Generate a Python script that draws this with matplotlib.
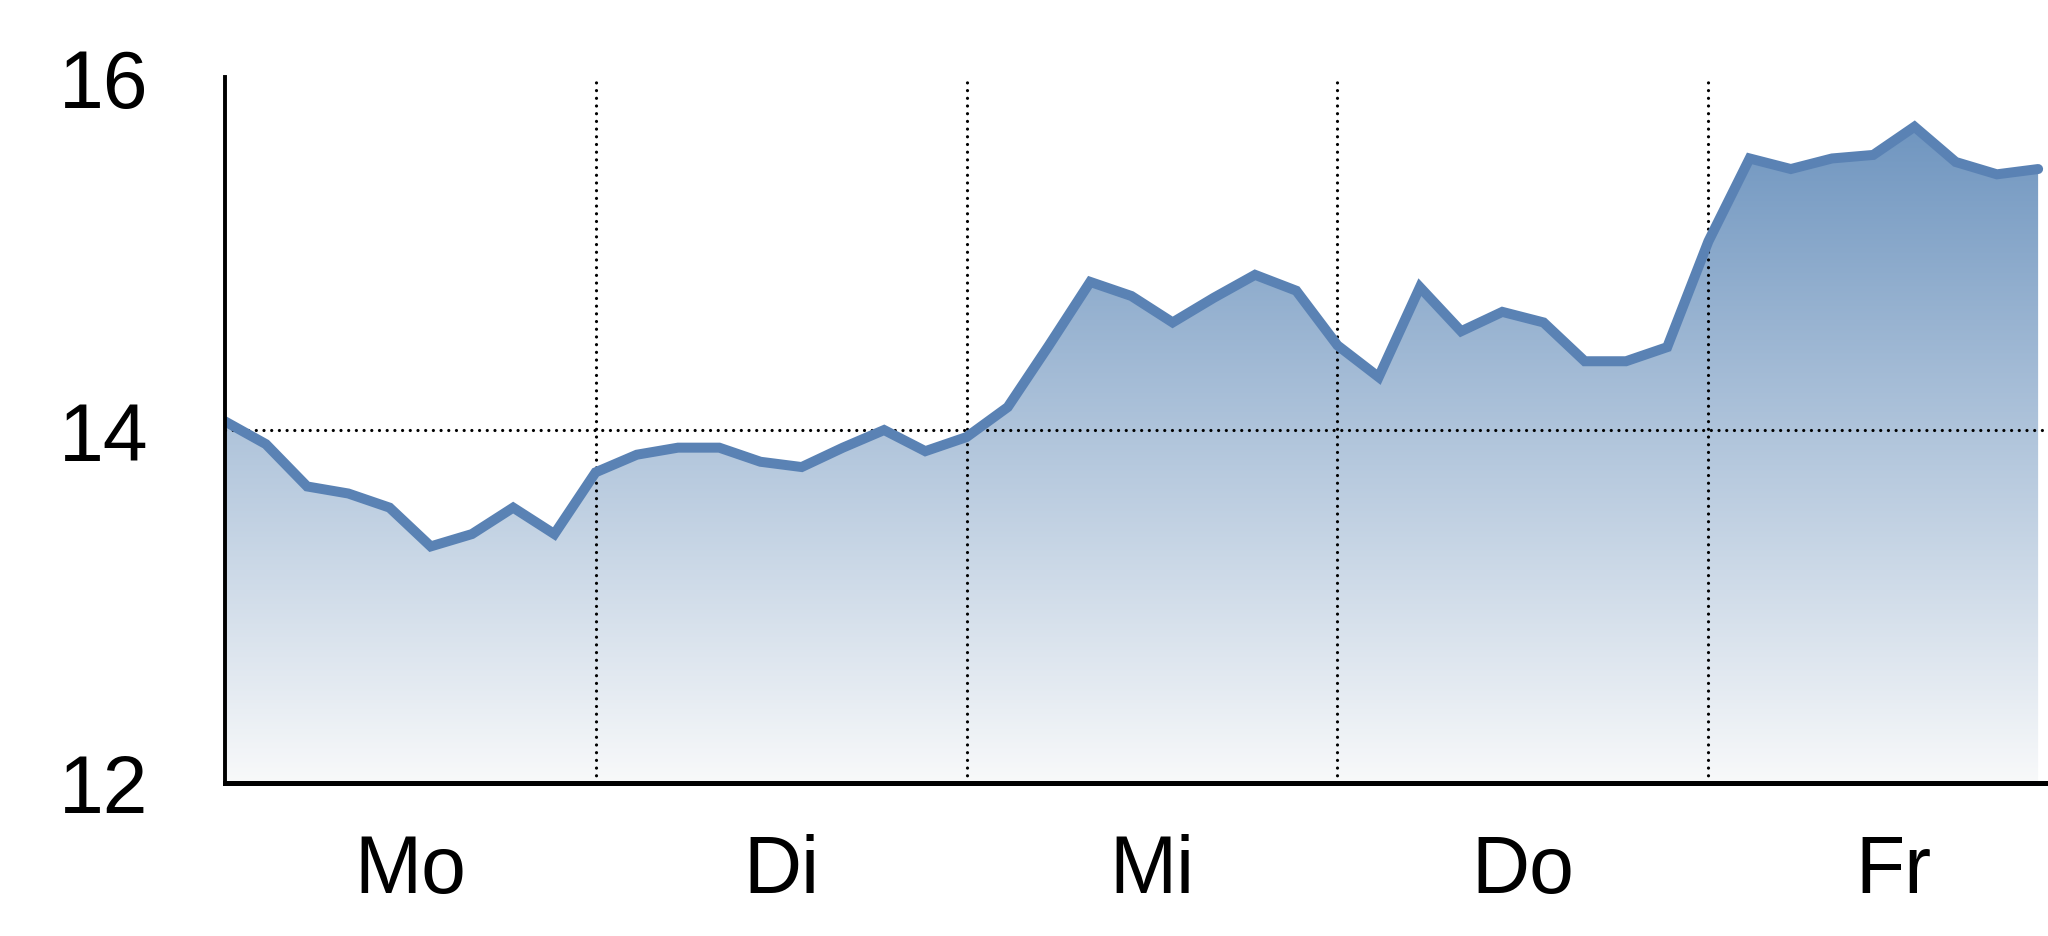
import numpy as np
import matplotlib
matplotlib.use("Agg")
import matplotlib.pyplot as plt
from matplotlib.colors import LinearSegmentedColormap
from matplotlib.patches import Polygon

plt.rcParams['font.family'] = ['Liberation Sans', 'DejaVu Sans']

# ── data (9 samples per day, x in sample steps) ─────────────────────────────
days = ["Mo", "Di", "Mi", "Do", "Fr"]
steps_per_day = 9
values = [
    14.05, 13.92, 13.68, 13.64, 13.56, 13.34, 13.41, 13.56, 13.41,   # Mo
    13.76, 13.86, 13.90, 13.90, 13.82, 13.79, 13.90, 14.00, 13.88,   # Di
    13.96, 14.13, 14.48, 14.84, 14.76, 14.61, 14.75, 14.88, 14.79,   # Mi
    14.48, 14.30, 14.81, 14.56, 14.67, 14.61, 14.39, 14.39, 14.47,   # Do
    15.07, 15.54, 15.48, 15.54, 15.56, 15.72, 15.52, 15.45, 15.48,   # Fr
]
y_ticks = [12, 14, 16]

x = np.arange(len(values))
y = np.array(values)
n_steps = steps_per_day * len(days)

line_color = "#5a82b4"
cmap = LinearSegmentedColormap.from_list("fade", ["#f8f9fa", "#7096c0"])

fig = plt.figure(figsize=(20.48, 9.37), dpi=100)
ax = fig.add_axes([0.1097, 0.1636, 0.9056, 0.7528])
ax.set_xlim(0, n_steps)
ax.set_ylim(12, 16)

# gradient fill under the curve
ymin, ymax = 12, y.max()
grad = np.linspace(0, 1, 256).reshape(-1, 1)
img = ax.imshow(grad, cmap=cmap, origin='lower', aspect='auto',
                extent=[x[0], x[-1], ymin, ymax], zorder=1)
poly = Polygon(np.column_stack([np.r_[x, x[-1], x[0]], np.r_[y, ymin, ymin]]),
               closed=True, facecolor='none', edgecolor='none')
ax.add_patch(poly)
img.set_clip_path(poly)

ax.plot(x, y, color=line_color, lw=7.2, solid_capstyle='round',
        solid_joinstyle='miter', zorder=4)

# dotted guides (round dots)
dot = dict(color='black', lw=2.3, ls=(0, (0.01, 2.4)), dash_capstyle='round', zorder=3)
for k in range(1, len(days)):
    ax.axvline(k * steps_per_day, **dot)
ax.axhline(14, **dot)

# axes styling
for s in ['top', 'right']:
    ax.spines[s].set_visible(False)
ax.spines['left'].set_linewidth(2.8)
ax.spines['bottom'].set_linewidth(3.6)
ax.spines['left'].set_zorder(5)
ax.spines['bottom'].set_zorder(5)

ax.set_yticks(y_ticks)
ax.set_yticklabels([str(t) for t in y_ticks])
ax.set_xticks([steps_per_day * (k + 0.5) for k in range(len(days))])
ax.set_xticklabels(days)
ax.tick_params(axis='both', length=0, labelsize=58)
ax.tick_params(axis='y', pad=55)
ax.tick_params(axis='x', pad=36)

fig.savefig("out.png", dpi=100)
